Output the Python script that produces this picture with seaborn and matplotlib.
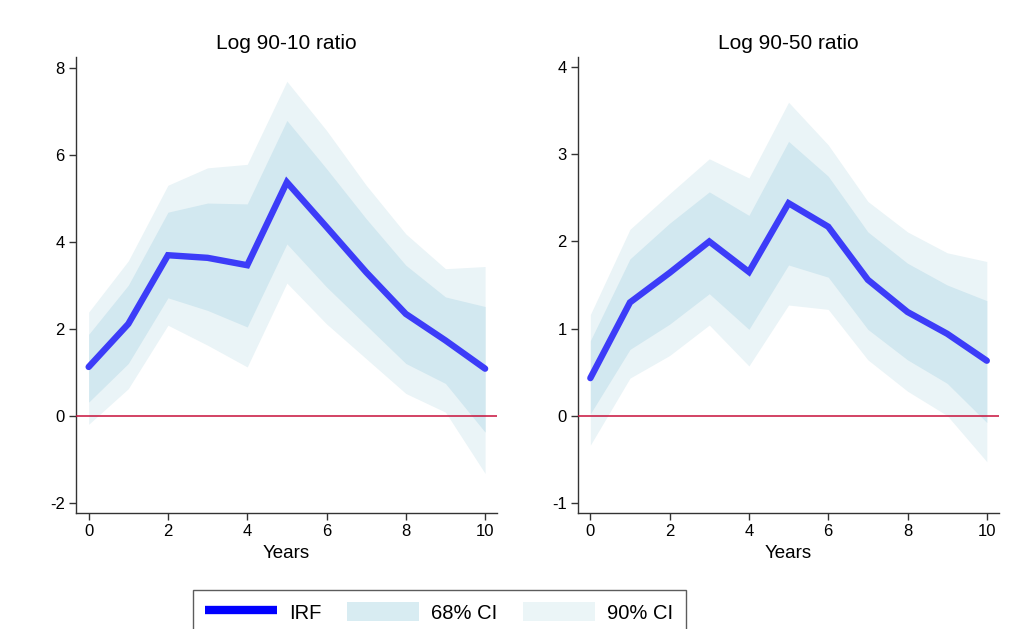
import numpy as np
import pandas as pd
import seaborn as sns
import matplotlib.pyplot as plt
from matplotlib.lines import Line2D
from matplotlib.patches import Patch

# horizon (years)
years = list(range(11))

# Log 90-10 ratio
irf_9010 = [1.12, 2.11, 3.69, 3.63, 3.46, 5.37, 4.34, 3.30, 2.34, 1.73, 1.08]
lo68_9010 = [0.31, 1.20, 2.71, 2.42, 2.04, 3.95, 2.96, 2.08, 1.20, 0.74, -0.38]
hi68_9010 = [1.87, 3.00, 4.68, 4.89, 4.87, 6.79, 5.68, 4.53, 3.46, 2.73, 2.51]
lo90_9010 = [-0.20, 0.62, 2.08, 1.62, 1.12, 3.05, 2.11, 1.31, 0.51, 0.08, -1.33]
hi90_9010 = [2.38, 3.56, 5.30, 5.70, 5.78, 7.69, 6.56, 5.30, 4.18, 3.38, 3.43]

# Log 90-50 ratio
irf_9050 = [0.43, 1.30, 1.64, 2.00, 1.65, 2.44, 2.17, 1.56, 1.19, 0.94, 0.63]
lo68_9050 = [0.02, 0.76, 1.05, 1.40, 0.99, 1.73, 1.59, 0.99, 0.64, 0.37, -0.08]
hi68_9050 = [0.86, 1.80, 2.21, 2.57, 2.30, 3.15, 2.75, 2.11, 1.75, 1.50, 1.32]
lo90_9050 = [-0.34, 0.43, 0.69, 1.04, 0.57, 1.27, 1.22, 0.64, 0.28, 0.00, -0.53]
hi90_9050 = [1.16, 2.14, 2.55, 2.95, 2.73, 3.60, 3.11, 2.46, 2.11, 1.87, 1.77]

titles = ["Log 90-10 ratio", "Log 90-50 ratio"]
yticks = [[-2, 0, 2, 4, 6, 8], [-1, 0, 1, 2, 3, 4]]
ylims = [(-2.24, 8.25), (-1.12, 4.12)]

sns.set_style("white")
plt.rcParams["font.family"] = ["Liberation Sans", "DejaVu Sans"]
plt.rcParams["axes.unicode_minus"] = False
plt.rcParams["text.color"] = "black"
plt.rcParams["axes.labelcolor"] = "black"
plt.rcParams["xtick.color"] = "black"
plt.rcParams["ytick.color"] = "black"

c_irf = "#3c3cf8"
c68 = "#d2e8f0"
c90 = "#eaf4f7"
c_zero = "#c8103a"

fig = plt.figure(figsize=(10.17, 6.29), dpi=100)
axes = [fig.add_axes([0.0747, 0.1844, 0.414, 0.725]),
        fig.add_axes([0.568, 0.1844, 0.414, 0.725])]

panels = [
    (irf_9010, lo68_9010, hi68_9010, lo90_9010, hi90_9010),
    (irf_9050, lo68_9050, hi68_9050, lo90_9050, hi90_9050),
]

for i, ax in enumerate(axes):
    irf, lo68, hi68, lo90, hi90 = panels[i]
    df = pd.DataFrame({"Years": years, "irf": irf})
    ax.fill_between(years, lo90, hi90, color=c90, lw=0, zorder=1)
    ax.fill_between(years, lo68, hi68, color=c68, lw=0, zorder=2)
    ax.axhline(0, color=c_zero, lw=1.1, zorder=3)
    sns.lineplot(data=df, x="Years", y="irf", ax=ax, color=c_irf, lw=4.6,
                 zorder=4, solid_joinstyle="miter")
    ax.set_xlim(-0.32, 10.3)
    ax.set_ylim(*ylims[i])
    ax.set_xticks([0, 2, 4, 6, 8, 10])
    ax.set_yticks(yticks[i])
    ax.set_title(titles[i], fontsize=15, pad=6)
    ax.set_xlabel("Years", fontsize=13.5, labelpad=4)
    ax.set_ylabel("")
    sns.despine(ax=ax)
    for s in ["left", "bottom"]:
        ax.spines[s].set_color("#333333")
        ax.spines[s].set_linewidth(1.0)
    ax.tick_params(axis="both", direction="out", length=5, width=1,
                   color="#333333", labelsize=12, pad=3, left=True, bottom=True)

handles = [
    Line2D([0], [0], color="#0000ff", lw=6, solid_capstyle="butt"),
    Patch(facecolor="#d8ecf2", edgecolor="none"),
    Patch(facecolor="#ebf5f7", edgecolor="none"),
]
leg = fig.legend(handles, ["IRF", "68% CI", "90% CI"], loc="upper center",
                 bbox_to_anchor=(0.4317, 0.062), ncol=3, fontsize=14.5,
                 frameon=True, fancybox=False, handlelength=3.6, handleheight=1.1,
                 handletextpad=0.6, columnspacing=1.25, borderpad=0.6,
                 borderaxespad=0)
leg.get_frame().set_edgecolor("#333333")
leg.get_frame().set_linewidth(1.0)

fig.savefig("out.png", dpi=100)
